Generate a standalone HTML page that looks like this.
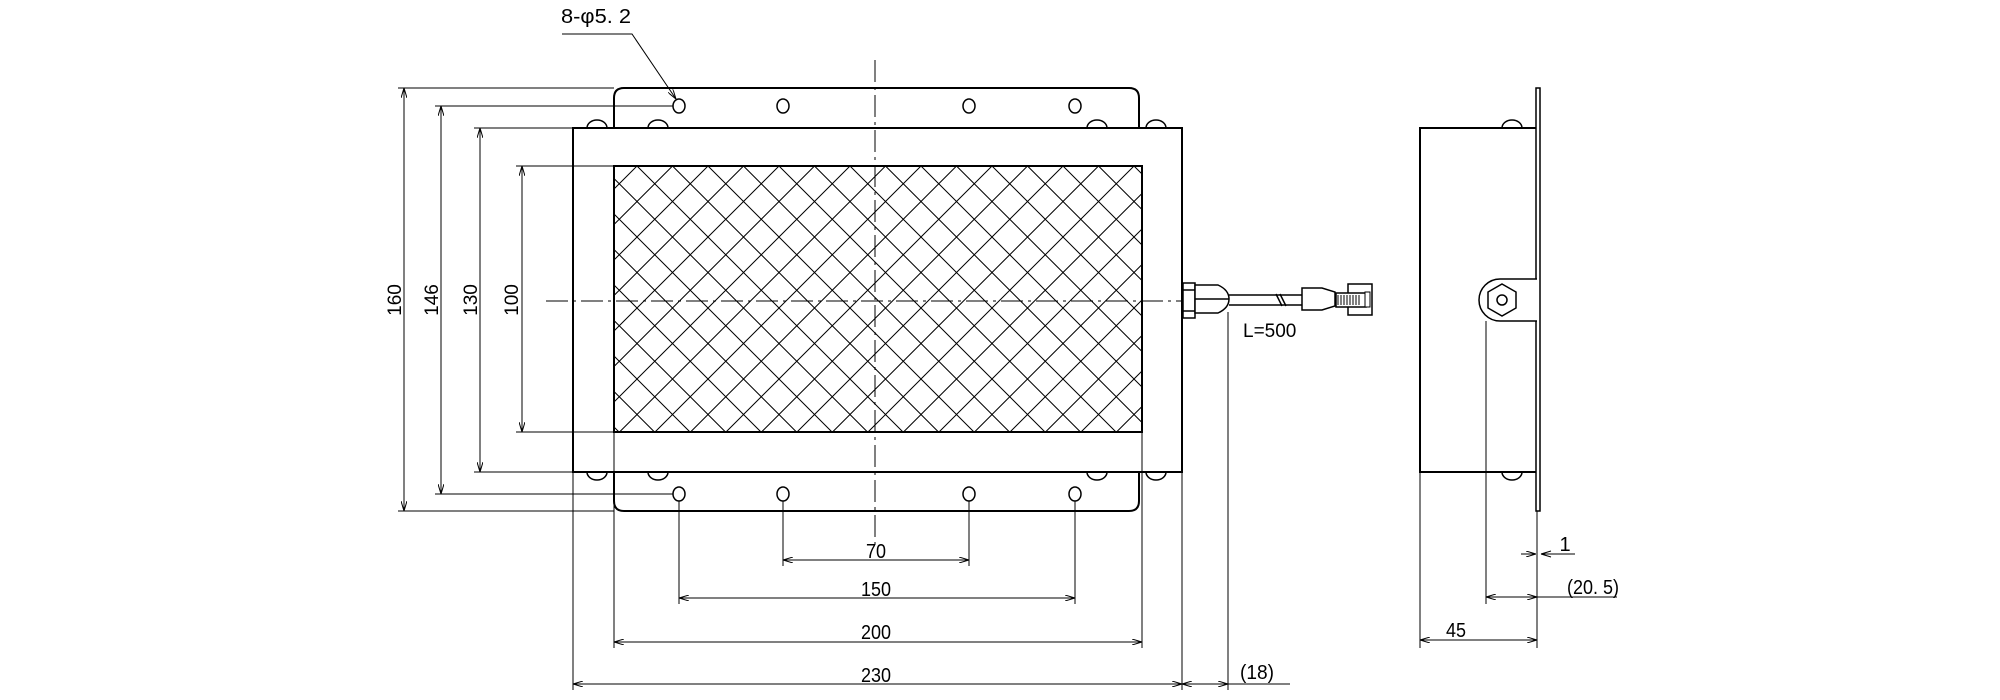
<!DOCTYPE html>
<html><head><meta charset="utf-8"><style>
html,body{margin:0;padding:0;background:#fff;}
svg{display:block;}
text{font-family:"Liberation Sans",sans-serif;fill:#000;}
.n{font-family:"Liberation Sans Narrow","Liberation Sans",sans-serif;}
</style></head><body>
<svg width="2000" height="700" viewBox="0 0 2000 700" xmlns="http://www.w3.org/2000/svg">
<defs>
<pattern id="h" x="637" y="166" width="35.5" height="35.5" patternUnits="userSpaceOnUse">
<path d="M0,0 L35.5,35.5 M35.5,0 L0,35.5 M-17.75,-17.75 L17.75,17.75 M17.75,-17.75 L53.25,17.75 M-17.75,17.75 L17.75,53.25 M17.75,17.75 L53.25,53.25 M17.75,-17.75 L-17.75,17.75 M53.25,-17.75 L17.75,17.75 M17.75,17.75 L-17.75,53.25 M53.25,17.75 L17.75,53.25" stroke="#000" stroke-width="1" fill="none"/>
</pattern>
<marker id="a" markerWidth="10" markerHeight="6" refX="10" refY="3" orient="auto-start-reverse" markerUnits="userSpaceOnUse"><path d="M0,0 L10,3 L0,6" fill="none" stroke="#000" stroke-width="1"/></marker>
</defs>
<g fill="none" stroke="#000">
<path d="M624,88 H1129 Q1139,88 1139,98 V501 Q1139,511 1129,511 H624 Q614,511 614,501 V98 Q614,88 624,88 Z" stroke-width="2"/>
<g stroke-width="1.5" fill="#fff">
<path d="M587,128 A10,8 0 0 1 607,128"/><path d="M648,128 A10,8 0 0 1 668,128"/><path d="M1087,128 A10,8 0 0 1 1107,128"/><path d="M1146,128 A10,8 0 0 1 1166,128"/>
<path d="M587,472 A10,8 0 0 0 607,472"/><path d="M648,472 A10,8 0 0 0 668,472"/><path d="M1087,472 A10,8 0 0 0 1107,472"/><path d="M1146,472 A10,8 0 0 0 1166,472"/>
</g>
<rect x="573" y="128" width="609" height="344" fill="#fff" stroke-width="2"/>
<rect x="614" y="166" width="528" height="266" fill="url(#h)" stroke-width="2"/>
<g stroke-width="1.5">
<ellipse cx="679" cy="106" rx="6" ry="7"/><ellipse cx="783" cy="106" rx="6" ry="7"/><ellipse cx="969" cy="106" rx="6" ry="7"/><ellipse cx="1075" cy="106" rx="6" ry="7"/>
<ellipse cx="679" cy="494" rx="6" ry="7"/><ellipse cx="783" cy="494" rx="6" ry="7"/><ellipse cx="969" cy="494" rx="6" ry="7"/><ellipse cx="1075" cy="494" rx="6" ry="7"/>
</g>
<path d="M875,60 V550" stroke-width="1" stroke-dasharray="22,5,3,5"/>
<path d="M546,301 H1190" stroke-width="1" stroke-dasharray="22,5,3,5"/>
<g stroke-width="1.5" fill="#fff">
<rect x="1183" y="283" width="12" height="35"/><path d="M1183,290 H1195 M1183,311 H1195"/>
<path d="M1195,285 H1218 Q1229,290 1229,299 Q1229,308 1218,313 H1195 Z"/><path d="M1195,299 H1229"/>
<path d="M1229,295 H1302 M1229,305 H1302"/>
<path d="M1276,294 L1282,306 M1280,294 L1286,306" stroke-width="1.5"/>
<path d="M1302,288 H1322 L1335,292 V306 L1322,310 H1302 Z"/>
<rect x="1348" y="284" width="24" height="31"/>
<rect x="1336" y="293" width="30" height="14"/>
<path d="M1338,295 V305 M1341,295 V305 M1344,295 V305 M1347,295 V305 M1350,295 V305 M1353,295 V305 M1356,295 V305 M1359,295 V305" stroke-width="1"/>
<rect x="1365" y="292" width="5" height="15" stroke-width="1"/>
</g>
<path d="M1502,128 A10,8 0 0 1 1522,128 M1502,472 A10,8 0 0 0 1522,472" stroke-width="1.5"/>
<rect x="1420" y="128" width="117" height="344" fill="#fff" stroke-width="2"/>
<rect x="1536" y="88" width="4" height="423" fill="#fff" stroke-width="1.5"/>
<path d="M1537,279 H1500 A21,21 0 0 0 1500,321 H1537" fill="#fff" stroke-width="1.5"/>
<path d="M1502,284 L1516,292 L1516,308 L1502,316 L1488,308 L1488,292 Z" stroke-width="1.5"/>
<circle cx="1502" cy="300" r="5" stroke-width="1.5"/>
<g stroke-width="1">
<path d="M398,88 H614 M435,106 H673 M474,128 H573 M516,166 H614"/>
<path d="M404,88 V511" marker-start="url(#a)" marker-end="url(#a)"/>
<path d="M441,106 V494" marker-start="url(#a)" marker-end="url(#a)"/>
<path d="M480,128 V472" marker-start="url(#a)" marker-end="url(#a)"/>
<path d="M522,166 V432" marker-start="url(#a)" marker-end="url(#a)"/>
<path d="M398,511 H614 M435,494 H673 M474,472 H573 M516,432 H614"/>
<path d="M783,501 V566 M969,501 V566 M679,501 V604 M1075,501 V604 M614,432 V648 M1142,432 V648 M573,472 V690 M1182,472 V690 M1228,312 V690"/>
<path d="M783,560 H969" marker-start="url(#a)" marker-end="url(#a)"/>
<path d="M679,598 H1075" marker-start="url(#a)" marker-end="url(#a)"/>
<path d="M614,642 H1142" marker-start="url(#a)" marker-end="url(#a)"/>
<path d="M573,684 H1182" marker-start="url(#a)" marker-end="url(#a)"/>
<path d="M1182,684 H1228" marker-start="url(#a)" marker-end="url(#a)"/>
<path d="M1228,684 H1290"/>
<path d="M1420,472 V648 M1537,511 V648 M1486,321 V604"/>
<path d="M1420,640 H1537" marker-start="url(#a)" marker-end="url(#a)"/>
<path d="M1486,597 H1537" marker-start="url(#a)" marker-end="url(#a)"/>
<path d="M1537,597 H1617"/>
<path d="M1521,554 H1536" marker-end="url(#a)"/>
<path d="M1558,554 H1541 M1541,554 L1551,551 M1541,554 L1551,557"/>
<path d="M1541,554 H1575"/>
<path d="M562,34 H632 L676,99" marker-end="url(#a)"/>
</g>
</g>
<g font-size="19">
<text transform="translate(401,300) rotate(-90)" text-anchor="middle">160</text>
<text transform="translate(438,300) rotate(-90)" text-anchor="middle">146</text>
<text transform="translate(477,300) rotate(-90)" text-anchor="middle">130</text>
<text transform="translate(518,300) rotate(-90)" text-anchor="middle">100</text>
<text x="1243" y="337">L=500</text>
</g>
<g font-size="20" class="n" text-anchor="middle">
<text x="876" y="558" textLength="20" lengthAdjust="spacingAndGlyphs">70</text>
<text x="876" y="596" textLength="30" lengthAdjust="spacingAndGlyphs">150</text>
<text x="876" y="639" textLength="30" lengthAdjust="spacingAndGlyphs">200</text>
<text x="876" y="682" textLength="30" lengthAdjust="spacingAndGlyphs">230</text>
<text x="1257" y="679" textLength="34" lengthAdjust="spacingAndGlyphs">(18)</text>
<text x="1456" y="637" textLength="20" lengthAdjust="spacingAndGlyphs">45</text>
<text x="1593" y="594" textLength="52" lengthAdjust="spacingAndGlyphs">(20. 5)</text>
<text x="1565" y="551">1</text>
<text x="596" y="23" textLength="70" lengthAdjust="spacingAndGlyphs">8-φ5. 2</text>
</g>
</svg>
</body></html>
